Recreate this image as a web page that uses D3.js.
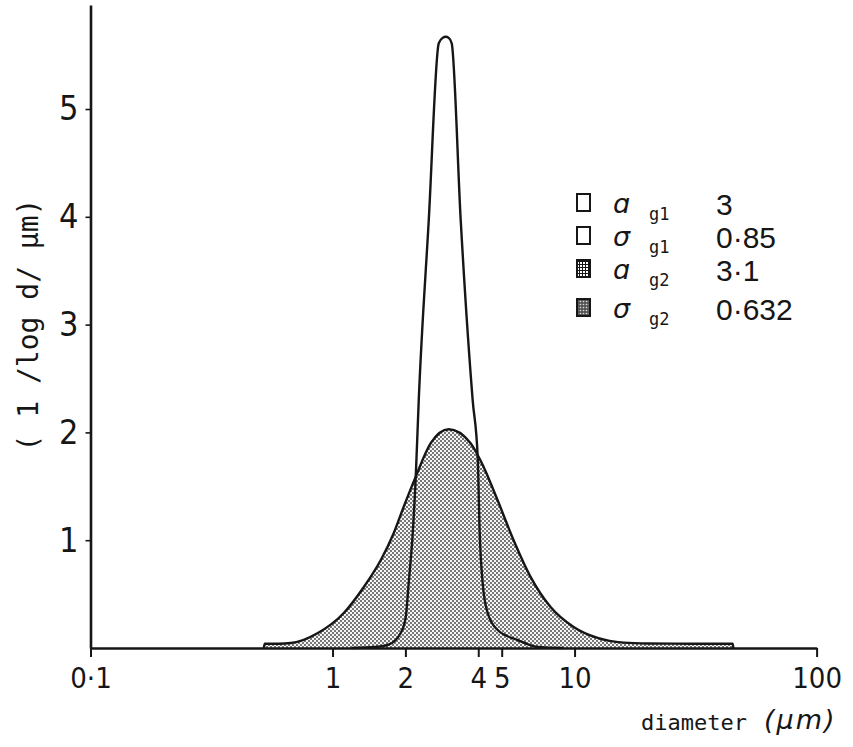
<!DOCTYPE html>
<html>
<head>
<meta charset="utf-8">
<script src="https://cdn.jsdelivr.net/npm/d3@7"></script>
<style>
  html, body { margin: 0; padding: 0; background: #fff; }
  svg { display: block; }
</style>
</head>
<body>
<svg id="chart" width="853" height="747"></svg>
<script>
// ---------------- data ----------------
const xTickValues = [0.1, 1, 2, 4, 5, 10, 100];
const xTickLabels = ["0·1", "1", "2", "4", "5", "10", "100"];
const yTickValues = [1, 2, 3, 4, 5];
const yTickLabels = ["1", "2", "3", "4", "5"];

// narrow distribution (unshaded)
const diam1 = [1.2, 1.5, 1.691, 1.913, 2.007, 2.064, 2.145, 2.207, 2.271, 2.498, 2.747, 2.85, 2.935, 3.02, 3.107, 3.385, 3.793, 3.979, 4.055, 4.172, 4.375, 4.811, 5.818, 7.036, 9.0];
const dens1 = [0.0, 0.01, 0.028, 0.139, 0.288, 0.603, 1.067, 1.586, 2.30, 3.97, 5.61, 5.66, 5.67, 5.66, 5.61, 3.97, 2.30, 1.77, 1.067, 0.603, 0.325, 0.167, 0.074, 0.01, 0.0];

// broad distribution (shaded)
const diam2 = [0.52, 0.525, 0.6, 0.673, 0.87, 1.113, 1.347, 1.583, 1.791, 1.968, 2.207, 2.545, 3.02, 3.72, 4.21, 4.81, 5.60, 6.58, 7.96, 9.91, 12.45, 15.93, 20, 30, 45, 45.3];
const dens2 = [0.0, 0.04, 0.04, 0.046, 0.139, 0.325, 0.566, 0.816, 1.067, 1.31, 1.59, 1.90, 2.03, 1.90, 1.68, 1.37, 1.00, 0.66, 0.38, 0.195, 0.093, 0.05, 0.042, 0.04, 0.04, 0.0];

// legend
const legendSymbols = ["ɑ", "σ", "ɑ", "σ"];
const legendSubs = ["g1", "g1", "g2", "g2"];
const legendValues = ["3", "0·85", "3·1", "0·632"];
const legendFills = ["none", "none", "grid", "dense"];

// ---------------- drawing ----------------
const svg = d3.select("#chart");
const ink = "#161616";
const narrow = "'Liberation Sans Narrow', 'DejaVu Sans Condensed', 'Liberation Sans', sans-serif";

const x = d3.scaleLog().domain([0.1, 100]).range([90.5, 816.6]);
const y = d3.scaleLinear().domain([0, 5.965]).range([648, 5]);

// patterns
const defs = svg.append("defs");
const stip = defs.append("pattern").attr("id", "stipple")
  .attr("patternUnits", "userSpaceOnUse").attr("width", 4).attr("height", 4);
stip.append("rect").attr("width", 4).attr("height", 4).attr("fill", "#f6f6f6");
stip.append("circle").attr("cx", 1).attr("cy", 1).attr("r", 0.9).attr("fill", "#3a3a3a");
stip.append("circle").attr("cx", 3).attr("cy", 3).attr("r", 0.9).attr("fill", "#3a3a3a");

const grid = defs.append("pattern").attr("id", "grid")
  .attr("patternUnits", "userSpaceOnUse").attr("width", 3).attr("height", 3);
grid.append("rect").attr("width", 3).attr("height", 3).attr("fill", "#fff");
grid.append("rect").attr("width", 3).attr("height", 1).attr("fill", ink);
grid.append("rect").attr("width", 1).attr("height", 3).attr("fill", ink);

const dense = defs.append("pattern").attr("id", "dense")
  .attr("patternUnits", "userSpaceOnUse").attr("width", 3).attr("height", 3);
dense.append("rect").attr("width", 3).attr("height", 3).attr("fill", "#555");
dense.append("circle").attr("cx", 1.5).attr("cy", 1.5).attr("r", 0.8).attr("fill", "#ddd");

// broad shaded distribution
const pts2 = diam2.map((d, i) => [d, dens2[i]]);
const area2 = d3.area().x(p => x(p[0])).y0(y(0)).y1(p => y(p[1])).curve(d3.curveMonotoneX);
const line2 = d3.line().x(p => x(p[0])).y(p => y(p[1])).curve(d3.curveMonotoneX);
svg.append("path").datum(pts2).attr("d", area2).attr("fill", "url(#stipple)");
svg.append("path").datum(pts2).attr("d", line2)
  .attr("fill", "none").attr("stroke", ink).attr("stroke-width", 2.4).attr("stroke-linejoin", "round");

// narrow distribution
const pts1 = diam1.map((d, i) => [d, dens1[i]]);
svg.append("path").datum(pts1).attr("d", line2)
  .attr("fill", "none").attr("stroke", ink).attr("stroke-width", 2.4).attr("stroke-linejoin", "round");

// axes
const xAxis = d3.axisBottom(x).tickValues(xTickValues)
  .tickFormat((d, i) => xTickLabels[i]).tickSize(9).tickSizeOuter(0).tickPadding(10);
const gx = svg.append("g").attr("transform", `translate(0,${y(0)})`).call(xAxis);
gx.select(".domain").attr("stroke", ink).attr("stroke-width", 2.6);
gx.selectAll(".tick line").attr("stroke", ink).attr("stroke-width", 2);
gx.selectAll(".tick text").attr("fill", ink).attr("font-family", narrow).attr("font-size", 29);

const yAxis = d3.axisLeft(y).tickValues(yTickValues)
  .tickFormat((d, i) => yTickLabels[i]).tickSize(5).tickSizeOuter(0).tickPadding(7);
const gy = svg.append("g").attr("transform", `translate(${x(0.1)},0)`).call(yAxis);
gy.select(".domain").attr("stroke", ink).attr("stroke-width", 2.6);
gy.selectAll(".tick line").attr("stroke", ink).attr("stroke-width", 1.6);
gy.selectAll(".tick text").attr("fill", ink).attr("font-family", narrow).attr("font-size", 34);

// axis titles
svg.append("text")
  .attr("transform", "translate(38,325) rotate(-90)")
  .attr("text-anchor", "middle")
  .attr("font-family", "'DejaVu Sans Mono', monospace")
  .attr("font-size", 28).attr("fill", ink)
  .text("( 1 /log d/ μm)");

svg.append("text").attr("x", 747).attr("y", 730).attr("text-anchor", "end")
  .attr("font-family", "'DejaVu Sans Mono', monospace").attr("font-size", 22).attr("fill", ink)
  .text("diameter");
svg.append("text").attr("x", 764).attr("y", 729)
  .attr("font-family", "'DejaVu Sans', sans-serif").attr("font-style", "italic")
  .attr("font-size", 27).attr("letter-spacing", 2).attr("fill", ink)
  .text("(μm)");

// legend
const rowBase = [215, 248, 281, 320];
const lg = svg.append("g");
legendValues.forEach((val, i) => {
  const b = rowBase[i];
  lg.append("rect").attr("x", 577).attr("y", b - 21).attr("width", 13).attr("height", 17)
    .attr("fill", legendFills[i] === "none" ? "#fff" : `url(#${legendFills[i]})`)
    .attr("stroke", ink).attr("stroke-width", 2);
  lg.append("text").attr("x", 613).attr("y", b - 2)
    .attr("font-family", "'DejaVu Sans', sans-serif").attr("font-style", "italic")
    .attr("font-size", 27).attr("fill", ink).text(legendSymbols[i]);
  lg.append("text").attr("x", 649).attr("y", b + 5)
    .attr("font-family", "'DejaVu Sans Mono', monospace")
    .attr("font-size", 17).attr("fill", ink).text(legendSubs[i]);
  lg.append("text").attr("x", 716).attr("y", b)
    .attr("font-family", "'Liberation Sans', Arial, sans-serif")
    .attr("font-size", 30).attr("fill", ink).text(val);
});
</script>
</body>
</html>
